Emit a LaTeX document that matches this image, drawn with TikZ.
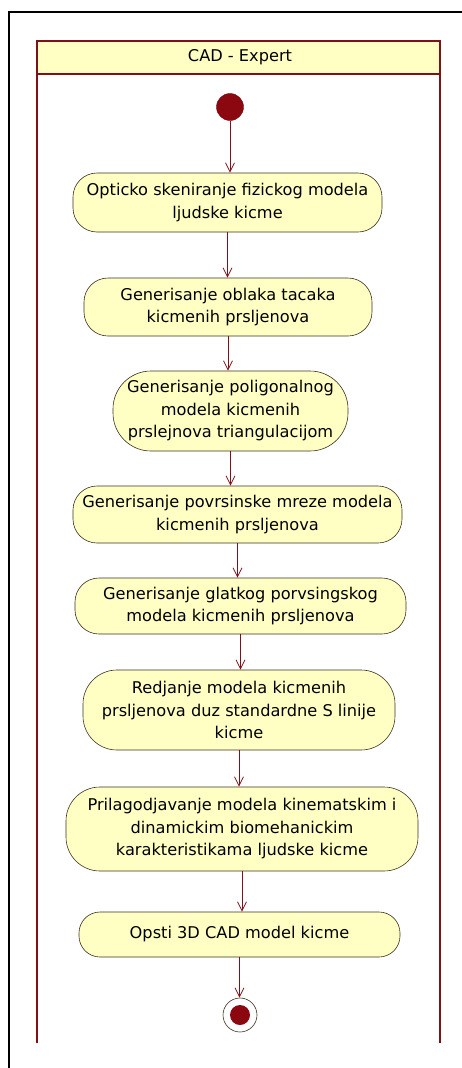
\documentclass[tikz,border=0pt]{standalone}
\usepackage{fontspec}
\setmainfont{DejaVu Sans}
\usepackage{tikz}
\usetikzlibrary{arrows.meta, positioning, shapes.geometric, calc}
\usepackage{xcolor}
\definecolor{lanered}{RGB}{128, 16, 24}
\definecolor{dotred}{RGB}{140, 8, 16}
\definecolor{actfill}{RGB}{255, 255, 196}
\definecolor{actline}{RGB}{60, 50, 35}

\begin{document}
\begin{tikzpicture}[x=1pt, y=-1pt, every node/.style={font=\fontsize{16.2}{22.5}\selectfont}]
      \useasboundingbox[fill=white] (0, 0) rectangle (462, 1068);
      \tikzset{
        activity/.style={draw=actline, fill=actfill, line width=0.6pt, rounded corners=24pt,
          align=center, inner sep=3pt},
        flow/.style={draw=lanered, line width=0.8pt, -{Straight Barb[length=9pt, width=9pt]}}
      }

      % Frame
      \draw[black, line width=1.8pt] (9, 1068) -- (9, 12) -- (462, 12);

      % Swimlane
      \draw[fill=actfill, draw=lanered, line width=1.6pt]
        (37, 41) rectangle (440, 74);
      \node (lane) at (240, 57.5) {CAD - Expert};
      \draw[lanered, line width=1.6pt] (37, 74) -- (37, 1043);
      \draw[lanered, line width=1.6pt] (440, 74) -- (440, 1043);

      % Start
      \node[circle, fill=dotred, draw=dotred!80!black, minimum size=27pt, inner sep=0pt]
        (start) at (230, 107) {};

      % Activities
      \node[activity, minimum width=309pt, minimum height=59pt] (scan) at (227.5, 202.5)
        {Opticko skeniranje fizickog modela\\ljudske kicme};
      \node[activity, minimum width=288pt, minimum height=58pt] (cloud) at (228, 307)
        {Generisanje oblaka tacaka\\kicmenih prsljenova};
      \node[activity, minimum width=235pt, minimum height=80pt, rounded corners=38pt]
        (poly) at (230.5, 411)
        {Generisanje poligonalnog\\modela kicmenih\\prslejnova triangulacijom};
      \node[activity, minimum width=329pt, minimum height=57pt] (mesh) at (237.5, 514.5)
        {Generisanje povrsinske mreze modela\\kicmenih prsljenova};
      \node[activity, minimum width=331pt, minimum height=56pt] (smooth) at (240.5, 606)
        {Generisanje glatkog porvsingskog\\modela kicmenih prsljenova};
      \node[activity, minimum width=312pt, minimum height=80pt, rounded corners=34pt]
        (align) at (239, 710)
        {Redjanje modela kicmenih\\prsljenova duz standardne S linije\\kicme};
      \node[activity, minimum width=352pt, minimum height=84pt, rounded corners=34pt]
        (fit) at (242, 829)
        {Prilagodjavanje modela kinematskim i\\dinamickim biomehanickim\\karakteristikama ljudske kicme};
      \node[activity, minimum width=321pt, minimum height=45pt, rounded corners=21pt]
        (model) at (239.5, 934.5) {Opsti 3D CAD model kicme};

      % End
      \node[circle, draw=actline, fill=white, line width=0.6pt, minimum size=34pt, inner sep=0pt]
        (stop) at (240, 1015) {};
      \node[circle, fill=dotred, minimum size=20pt, inner sep=0pt] (stopdot) at (stop) {};

      % Flows
      \draw[flow] (start) -- (start |- scan.north);
      \draw[flow] (scan) -- (scan |- cloud.north);
      \draw[flow] (cloud) -- (cloud |- poly.north);
      \draw[flow] (poly) -- (poly |- mesh.north);
      \draw[flow] (mesh) -- (mesh |- smooth.north);
      \draw[flow] (smooth) -- (smooth |- align.north);
      \draw[flow] (align) -- (align |- fit.north);
      \draw[flow] (fit) -- (fit |- model.north);
      \draw[flow] (model) -- (model |- stop.north);
    \end{tikzpicture}
\end{document}
